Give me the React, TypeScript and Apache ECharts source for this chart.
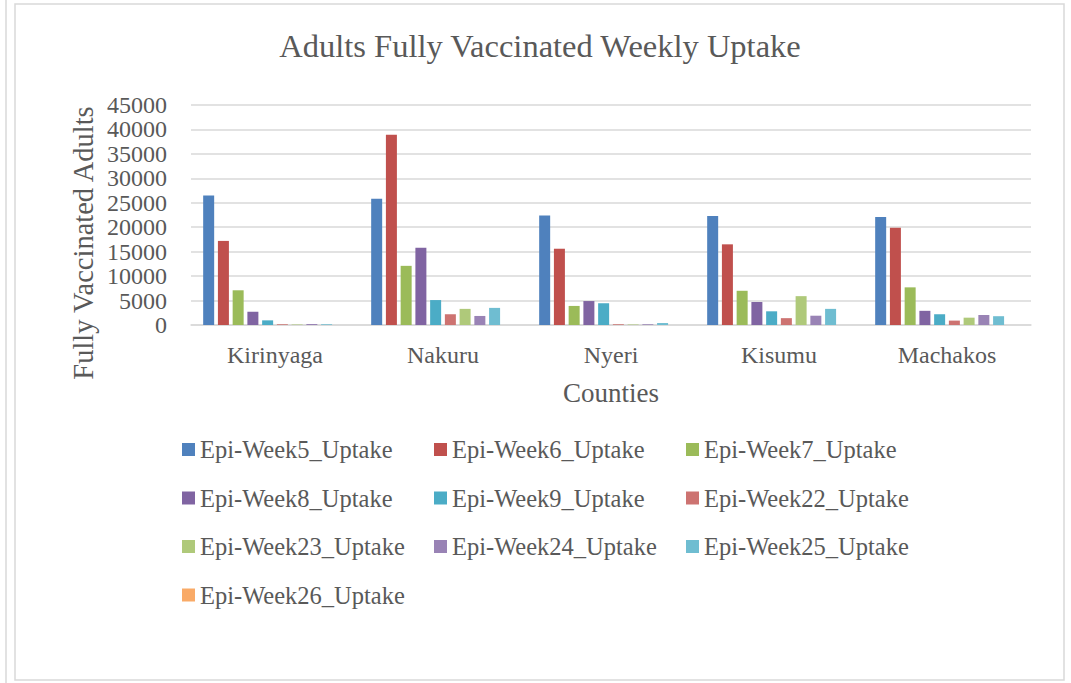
import React, { useEffect, useRef } from "react";
import * as echarts from "echarts";

const counties = ["Kirinyaga", "Nakuru", "Nyeri", "Kisumu", "Machakos"];
const seriesNames = [
  "Epi-Week5_Uptake",
  "Epi-Week6_Uptake",
  "Epi-Week7_Uptake",
  "Epi-Week8_Uptake",
  "Epi-Week9_Uptake",
  "Epi-Week22_Uptake",
  "Epi-Week23_Uptake",
  "Epi-Week24_Uptake",
  "Epi-Week25_Uptake",
  "Epi-Week26_Uptake",
];
const week5 = [26500, 25800, 22400, 22300, 22100];
const week6 = [17200, 38900, 15600, 16500, 19900];
const week7 = [7100, 12100, 3900, 7000, 7700];
const week8 = [2700, 15800, 4900, 4700, 2900];
const week9 = [950, 5100, 4450, 2800, 2200];
const week22 = [150, 2200, 150, 1400, 900];
const week23 = [100, 3300, 100, 5900, 1500];
const week24 = [200, 1850, 150, 1900, 2050];
const week25 = [150, 3500, 400, 3300, 1800];
const week26 = [0, 0, 0, 0, 0];
const seriesValues = [week5, week6, week7, week8, week9, week22, week23, week24, week25, week26];
const colors = [
  "#4F81BD",
  "#C0504D",
  "#9BBB59",
  "#8064A2",
  "#4BACC6",
  "#CD7371",
  "#AFC97A",
  "#9983B5",
  "#6FBDD1",
  "#F9AA67",
];
const yTicks = { min: 0, max: 45000, interval: 5000 };

const FONT = "'Liberation Serif', 'Times New Roman', serif";
const TXT = "#595959";

export default function App() {
  const ref = useRef<HTMLDivElement>(null);
  useEffect(() => {
    document.body.style.margin = "0";
    const chart = echarts.init(ref.current!, undefined, { renderer: "svg" });
    const legendCols = [
      [0, 3, 6, 9],
      [1, 4, 7],
      [2, 5, 8],
    ];
    const legendLeft = [182, 434, 686];
    chart.setOption({
      animation: false,
      backgroundColor: "#ffffff",
      textStyle: { fontFamily: FONT },
      grid: { left: 191, right: 40, top: 105, bottom: 358, containLabel: false },
      xAxis: {
        type: "category",
        data: counties,
        axisLine: { lineStyle: { color: "#d9d9d9", width: 1.5 } },
        axisTick: { show: false },
        axisLabel: { color: TXT, fontSize: 24, fontFamily: FONT, margin: 18 },
      },
      yAxis: {
        type: "value",
        min: yTicks.min,
        max: yTicks.max,
        interval: yTicks.interval,
        axisLine: { show: false },
        axisTick: { show: false },
        axisLabel: {
          color: TXT,
          fontSize: 24,
          fontFamily: FONT,
          margin: 24,
          formatter: (v: number) => String(v),
        },
        splitLine: { lineStyle: { color: "#d9d9d9", width: 1.5 } },
      },
      legend: legendCols.map((col, i) => ({
        orient: "vertical",
        left: legendLeft[i],
        top: 437,
        padding: 0,
        itemWidth: 13,
        itemHeight: 13,
        itemGap: 23.5,
        icon: "rect",
        data: col.map((k) => seriesNames[k]),
        textStyle: { color: TXT, fontSize: 24.5, fontFamily: FONT, lineHeight: 24 },
      })),
      series: seriesNames.map((name, i) => ({
        name,
        type: "bar",
        data: seriesValues[i],
        barWidth: 11,
        barGap: "34%",
        itemStyle: { color: colors[i] },
      })),
      graphic: [
        {
          type: "rect",
          shape: { x: 15, y: 4, width: 1049, height: 676 },
          style: { fill: "none", stroke: "#d9d9d9", lineWidth: 1.5 },
          silent: true,
        },
        {
          type: "line",
          shape: { x1: 6, y1: 0, x2: 6, y2: 683 },
          style: { stroke: "#d9d9d9", lineWidth: 1.5 },
          silent: true,
        },
        {
          type: "text",
          x: 540,
          y: 46,
          style: {
            text: "Adults Fully Vaccinated Weekly Uptake",
            fill: TXT,
            font: `32.5px ${FONT}`,
            textAlign: "center",
            textVerticalAlign: "middle",
          },
        },
        {
          type: "text",
          x: 611,
          y: 393,
          style: {
            text: "Counties",
            fill: TXT,
            font: `27px ${FONT}`,
            textAlign: "center",
            textVerticalAlign: "middle",
          },
        },
        {
          type: "text",
          x: 83,
          y: 243,
          rotation: Math.PI / 2,
          style: {
            text: "Fully Vaccinated Adults",
            fill: TXT,
            font: `28.5px ${FONT}`,
            textAlign: "center",
            textVerticalAlign: "middle",
          },
        },
      ],
    });
    return () => chart.dispose();
  }, []);
  return <div ref={ref} style={{ width: 1071, height: 683 }} />;
}
